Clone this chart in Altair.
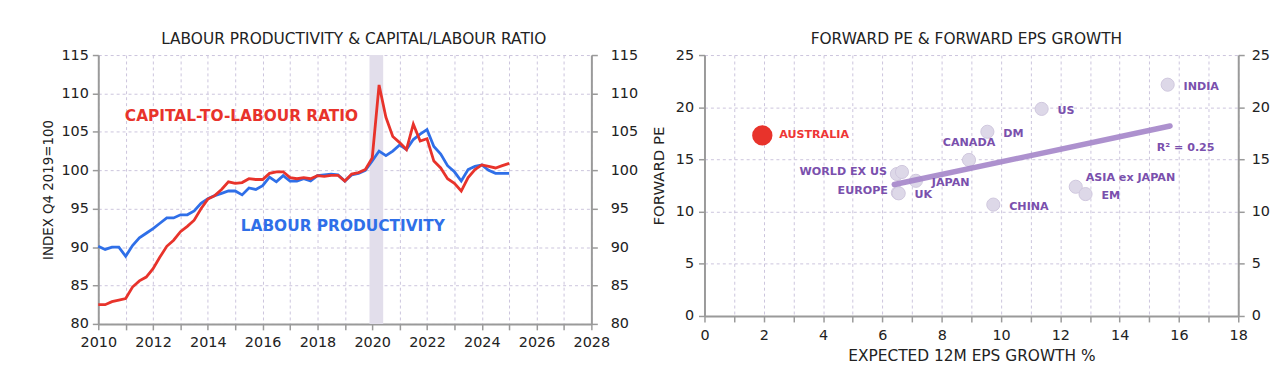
import altair as alt
import pandas as pd

# ---------------- data: left panel (quarterly, 2010Q1 .. 2025Q1) ----------------
quarters = [2010 + 0.25 * i for i in range(61)]
labour_productivity = [
    90.1, 89.7, 90.0, 90.0,
    88.8, 90.2, 91.2, 91.8,
    92.4, 93.1, 93.8, 93.8,
    94.2, 94.2, 94.7, 95.7,
    96.3, 96.7, 97.0, 97.3,
    97.3, 96.8, 97.7, 97.5,
    98.0, 99.1, 98.5, 99.3,
    98.6, 98.6, 98.9, 98.6,
    99.3, 99.4, 99.5, 99.4,
    98.6, 99.4, 99.6, 100.0,
    101.2, 102.5, 101.9, 102.5,
    103.3, 102.7, 104.0, 104.7,
    105.3, 103.1, 102.1, 100.6,
    99.8, 98.6, 100.1, 100.5,
    100.7, 100.0, 99.6, 99.6,
    99.6,
]
capital_labour = [
    82.5, 82.5, 82.9, 83.1,
    83.3, 84.8, 85.6, 86.1,
    87.2, 88.7, 90.1, 90.9,
    92.0, 92.7, 93.5, 95.0,
    96.25, 96.7, 97.5, 98.5,
    98.3, 98.4, 98.9, 98.8,
    98.8, 99.6, 99.8, 99.8,
    99.05, 98.9, 99.05, 98.9,
    99.3, 99.2, 99.35, 99.35,
    98.6, 99.5, 99.7, 100.1,
    101.6, 111.1, 106.9, 104.4,
    103.6, 102.7, 106.0, 103.8,
    104.1, 101.2, 100.3, 98.9,
    98.3, 97.3, 99.05, 100.1,
    100.7, 100.5, 100.3, 100.6,
    100.9,
]
recession_start = [2019.9]
recession_end = [2020.4]
series_labels = ["CAPITAL-TO-LABOUR RATIO", "LABOUR PRODUCTIVITY"]
series_label_x = [2010.97, 2015.2]
series_label_y = [107.1, 92.75]

# ---------------- data: right panel ----------------
countries = ["AUSTRALIA", "WORLD EX US", "WORLD", "EUROPE", "UK", "JAPAN", "CANADA",
             "DM", "CHINA", "US", "ASIA ex JAPAN", "EM", "INDIA"]
eps_growth = [1.95, 6.49, 6.66, 6.52, 6.55, 7.13, 8.92, 9.54, 9.74, 11.37, 12.52, 12.85, 15.62]
forward_pe = [17.3, 13.6, 13.8, 11.8, 11.75, 12.95, 14.95, 17.65, 10.67, 19.84, 12.38, 11.68, 22.16]
trend_x = [6.4, 15.7]
trend_y = [12.6, 18.2]
r2_text = ["R² = 0.25"]
r2_x = [15.25]
r2_y = [16.1]

# label placement groups (style)
right_labels = ["UK", "JAPAN", "DM", "CHINA", "US", "EM", "INDIA"]
left_labels = ["WORLD EX US", "EUROPE"]
top_labels = ["CANADA"]
upper_right_labels = ["ASIA ex JAPAN"]

FONT = "DejaVu Sans"
BLUE = "#2f6fe8"
RED = "#e8332b"
PURPLE = "#7a50ad"
W1, H1 = 497, 271
W2, H2 = 538, 263
TICK_FS = 14.5

# ---------------- left panel ----------------
ts = pd.DataFrame({"q": quarters, "lp": labour_productivity, "kl": capital_labour})
x1 = alt.Scale(domain=[2010, 2028], nice=False, zero=False)
y1 = alt.Scale(domain=[80, 115], nice=False, zero=False)
yvals1 = list(range(80, 116, 5))
x1_axis = alt.Axis(values=list(range(2010, 2029)),
                   labelExpr="datum.value % 2 == 0 ? '' + datum.value : ''",
                   title=None, labelPadding=6, labelFlush=False)
y1_axis = alt.Axis(values=yvals1, title="INDEX Q4 2019=100", titlePadding=5, labelPadding=4,
                   titleFontSize=13.5)

band = alt.Chart(pd.DataFrame({"s": recession_start, "e": recession_end})).mark_rect(
    color="#e2deeb").encode(
    x=alt.X("s:Q", scale=x1, axis=x1_axis), x2="e:Q",
    y=alt.value(0), y2=alt.value(H1))

blue = alt.Chart(ts).mark_line(color=BLUE, strokeWidth=2.8).encode(
    x=alt.X("q:Q", scale=x1, axis=x1_axis),
    y=alt.Y("lp:Q", scale=y1, axis=y1_axis))
red = alt.Chart(ts).mark_line(color=RED, strokeWidth=2.8).encode(
    x=alt.X("q:Q", scale=x1, axis=x1_axis),
    y=alt.Y("kl:Q", scale=y1, axis=y1_axis))

lab_df = pd.DataFrame({"t": series_labels, "x": series_label_x, "y": series_label_y,
                       "c": ["kl", "lp"]})
labels1 = alt.Chart(lab_df).mark_text(
    font=FONT, fontSize=15.5, fontWeight="bold", align="left", baseline="middle").encode(
    x=alt.X("x:Q", scale=x1, axis=x1_axis),
    y=alt.Y("y:Q", scale=y1, axis=y1_axis),
    text="t:N",
    color=alt.Color("c:N", scale=alt.Scale(domain=["kl", "lp"], range=[RED, BLUE]), legend=None))

right_axis1 = alt.Chart(ts).mark_line(opacity=0).encode(
    x=alt.X("q:Q", scale=x1, axis=x1_axis),
    y=alt.Y("lp:Q", scale=y1,
            axis=alt.Axis(orient="right", values=yvals1, title=None, grid=False, labelPadding=13)))

left = alt.layer(alt.layer(band, blue, red, labels1), right_axis1).resolve_scale(
    y="independent").properties(
    width=W1, height=H1,
    title=alt.TitleParams("LABOUR PRODUCTIVITY & CAPITAL/LABOUR RATIO", dx=9, offset=0))

# ---------------- right panel ----------------
pts = pd.DataFrame({"name": countries, "g": eps_growth, "pe": forward_pe})
x2 = alt.Scale(domain=[0, 18], nice=False, zero=False)
y2 = alt.Scale(domain=[0, 25], nice=False, zero=False)
yvals2 = list(range(0, 26, 5))
x2_axis = alt.Axis(values=list(range(0, 19)),
                   labelExpr="datum.value % 2 == 0 ? '' + datum.value : ''",
                   title="EXPECTED 12M EPS GROWTH %", titlePadding=6, labelPadding=7,
                   titleFontSize=15.5, labelFlush=False)
y2_axis = alt.Axis(values=yvals2, title="FORWARD PE", titlePadding=9, labelPadding=5,
                   titleFontSize=15, titleY=H2 / 2 - 10)

base2 = alt.Chart(pts).encode(
    x=alt.X("g:Q", scale=x2, axis=x2_axis),
    y=alt.Y("pe:Q", scale=y2, axis=y2_axis))

others = base2.transform_filter(alt.datum.name != "AUSTRALIA").mark_point(
    filled=True, size=175, shape="circle", fill="#ddd8e8", stroke="#cfc7de",
    strokeWidth=1, opacity=1)
aus = base2.transform_filter(alt.datum.name == "AUSTRALIA").mark_point(
    filled=True, size=420, shape="circle", fill=RED, opacity=1)

trend = alt.Chart(pd.DataFrame({"g": trend_x, "pe": trend_y})).mark_line(
    color="#a485c9", strokeWidth=5.5, opacity=0.9, strokeCap="round").encode(
    x=alt.X("g:Q", scale=x2, axis=x2_axis),
    y=alt.Y("pe:Q", scale=y2, axis=y2_axis))

lbl_style = dict(font=FONT, fontSize=11.2, fontWeight="bold", baseline="middle")
aus_lbl = base2.transform_filter(alt.datum.name == "AUSTRALIA").mark_text(
    align="left", dx=17, dy=0, color="#ee3636", **lbl_style).encode(text="name:N")
r_lbl = base2.transform_filter(alt.FieldOneOfPredicate(field="name", oneOf=right_labels)).mark_text(
    align="left", dx=16, dy=2, color=PURPLE, **lbl_style).encode(text="name:N")
l_lbl = base2.transform_filter(alt.FieldOneOfPredicate(field="name", oneOf=left_labels)).mark_text(
    align="right", dx=-10, dy=-2, color=PURPLE, **lbl_style).encode(text="name:N")
t_lbl = base2.transform_filter(alt.FieldOneOfPredicate(field="name", oneOf=top_labels)).mark_text(
    align="center", dx=0, dy=-17, color=PURPLE, **lbl_style).encode(text="name:N")
ur_lbl = base2.transform_filter(alt.FieldOneOfPredicate(field="name", oneOf=upper_right_labels)).mark_text(
    align="left", dx=10, dy=-9, color=PURPLE, **lbl_style).encode(text="name:N")
r2_lbl = alt.Chart(pd.DataFrame({"t": r2_text, "g": r2_x, "pe": r2_y})).mark_text(
    align="left", color=PURPLE, **lbl_style).encode(
    x=alt.X("g:Q", scale=x2, axis=x2_axis),
    y=alt.Y("pe:Q", scale=y2, axis=y2_axis),
    text="t:N")

right_axis2 = alt.Chart(pts).mark_point(opacity=0).encode(
    x=alt.X("g:Q", scale=x2, axis=x2_axis),
    y=alt.Y("pe:Q", scale=y2,
            axis=alt.Axis(orient="right", values=yvals2, title=None, grid=False, labelPadding=7)))

right = alt.layer(
    alt.layer(others, aus, trend, aus_lbl, r_lbl, l_lbl, t_lbl, ur_lbl, r2_lbl),
    right_axis2).resolve_scale(y="independent").properties(
    width=W2, height=H2,
    title=alt.TitleParams("FORWARD PE & FORWARD EPS GROWTH", dx=-5, offset=0))

chart = alt.hconcat(left, right, spacing=13).properties(
    padding={"left": 34, "top": 22, "right": 0, "bottom": 0},
    background="white",
).configure_view(stroke=None).configure_axis(
    labelFont=FONT, labelFontSize=TICK_FS, labelColor="#222222",
    titleFont=FONT, titleFontSize=13.5, titleFontWeight="normal", titleColor="#222222",
    domainColor="#9a9a9a", domainWidth=2, tickColor="#9a9a9a", tickWidth=1.5, tickSize=6,
    gridColor="#cbc4dd", gridDash=[3, 3], gridWidth=1,
).configure_title(font=FONT, fontSize=15.5, fontWeight="normal", color="#222222", anchor="middle")

chart.save("out.html", embed_options={"renderer": "svg", "actions": False})
